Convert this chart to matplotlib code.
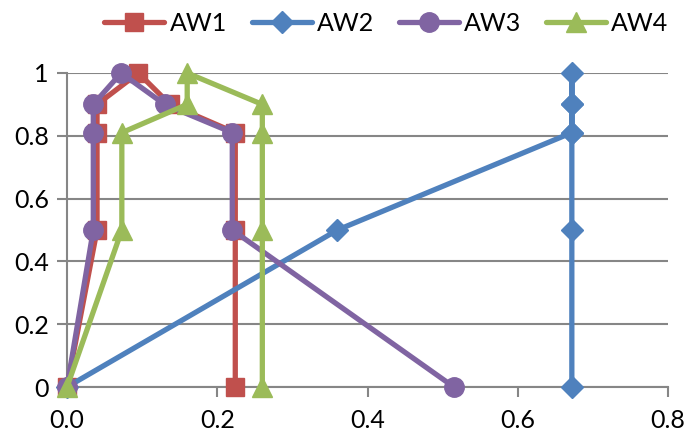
import matplotlib.pyplot as plt

# dữ liệu
y_vals = [0, 0.5, 0.81, 0.9, 1.0, 0.9, 0.81, 0.5, 0]
aw1_x = [0, 0.04, 0.04, 0.04, 0.095, 0.137, 0.224, 0.224, 0.224]
aw2_x = [0, 0.36, 0.672, 0.672, 0.672, 0.672, 0.672, 0.672, 0.672]
aw3_x = [0, 0.035, 0.035, 0.035, 0.072, 0.13, 0.22, 0.22, 0.515]
aw4_x = [0, 0.073, 0.073, 0.16, 0.16, 0.26, 0.26, 0.26, 0.26]

series = [
    ("AW1", aw1_x, "#C0504D", "s", 13),
    ("AW2", aw2_x, "#4F81BD", "D", 11),
    ("AW3", aw3_x, "#8064A2", "o", 14),
    ("AW4", aw4_x, "#9BBB59", "^", 15),
]

plt.rcParams['font.family'] = ['Lato', 'DejaVu Sans']

fig = plt.figure(figsize=(6.84, 4.4), dpi=100)
ax = fig.add_axes([67 / 684, 1 - 387 / 440, 601 / 684, 314 / 440])

for name, xs, color, marker, ms in series:
    ax.plot(xs, y_vals, color=color, lw=3.8, marker=marker, markersize=ms,
            label=name, clip_on=False, zorder=3, solid_capstyle="round")

grid_c = "#868686"
ax.set_xlim(0, 0.8)
ax.set_ylim(0, 1)
ax.set_xticks([0, 0.2, 0.4, 0.6, 0.8])
ax.set_xticklabels(["0.0", "0.2", "0.4", "0.6", "0.8"])
ax.set_yticks([0, 0.2, 0.4, 0.6, 0.8, 1.0])
ax.set_yticklabels(["0", "0.2", "0.4", "0.6", "0.8", "1"])
ax.yaxis.grid(True, color=grid_c, lw=1.5)
ax.set_axisbelow(True)
for s in ["top", "right"]:
    ax.spines[s].set_visible(False)
for s in ["left", "bottom"]:
    ax.spines[s].set_color(grid_c)
    ax.spines[s].set_linewidth(1.5)
ax.tick_params(axis="both", colors=grid_c, width=1.5, length=7, labelsize=18,
               labelcolor="black")
ax.tick_params(axis="x", pad=9)
ax.tick_params(axis="y", pad=6)

fig.legend(loc="upper center", bbox_to_anchor=(0.565, 1.025), ncol=4, frameon=False,
           fontsize=18, handlelength=2.4, columnspacing=1.0, handletextpad=0.2)

fig.savefig("out.png", dpi=100)
